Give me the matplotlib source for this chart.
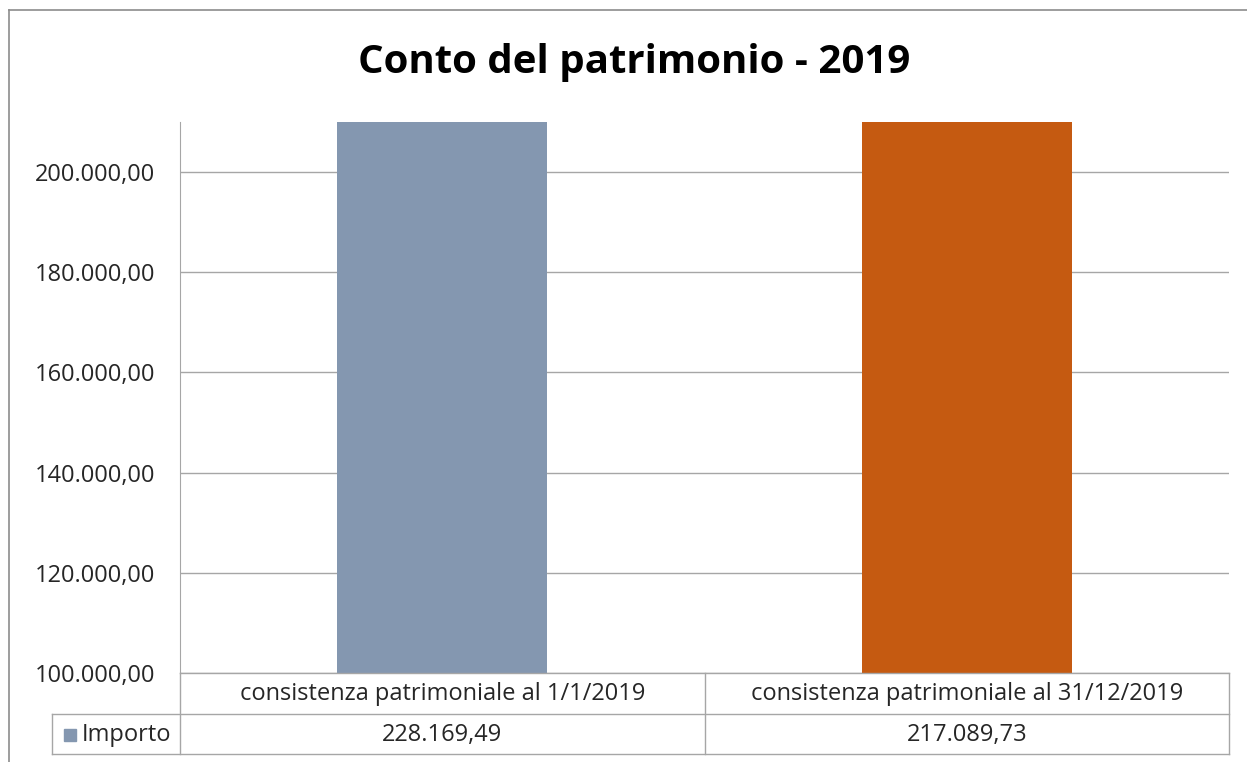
import matplotlib.pyplot as plt
from matplotlib import font_manager
from matplotlib.lines import Line2D
from matplotlib.patches import Rectangle
from matplotlib.transforms import blended_transform_factory

# data
categorie = ['consistenza patrimoniale al 1/1/2019', 'consistenza patrimoniale al 31/12/2019']
importo = [228169.49, 217089.73]
colori = ['#8497B0', '#C55A11']
serie = 'Importo'
yticks = [100000, 120000, 140000, 160000, 180000, 200000]

names = {f.name for f in font_manager.fontManager.ttflist}
fam = 'Liberation Sans Narrow' if 'Liberation Sans Narrow' in names else 'Open Sans'
plt.rcParams['font.family'] = [fam, 'DejaVu Sans']
txt = '#262626'
grid = '#A6A6A6'


def it_fmt(v):
    # formato italiano: 200.000,00
    return f'{v:,.2f}'.replace(',', 'X').replace('.', ',').replace('X', '.')


W, H = 1247, 762
fig = plt.figure(figsize=(W / 100, H / 100), dpi=100)


def fx(px):
    return px / W


def fy(py):
    return 1 - py / H


# plot area in pixels
L, R, T, B = 180, 1229, 122, 673
ax = fig.add_axes([fx(L), fy(B), fx(R - L), (B - T) / H])

x = list(range(len(categorie)))
ax.bar(x, importo, width=0.4, color=colori, zorder=3)
ax.set_xlim(-0.5, len(categorie) - 0.5)
ax.set_ylim(100000, 210000)
ax.set_yticks(yticks)
ax.set_yticklabels([it_fmt(v) for v in yticks], fontsize=17, color=txt)
ax.tick_params(axis='y', length=0, pad=18)
ax.set_xticks([])
ax.grid(axis='y', color=grid, linewidth=1, zorder=0)
for s in ['top', 'right', 'bottom']:
    ax.spines[s].set_visible(False)
ax.spines['left'].set_color(grid)

# title
fig.text(fx(634), fy(62), 'Conto del patrimonio - 2019', ha='center', va='center',
         fontsize=29, fontweight='bold', color='black')

# outer frame
fig.add_artist(Line2D([fx(9), fx(1247)], [fy(10), fy(10)], color='#8C8C8C', lw=1.2))
fig.add_artist(Line2D([fx(9), fx(9)], [fy(10), fy(762)], color='#8C8C8C', lw=1.2))

# data table
r1, r2, r3 = 673, 714, 754


def hline(y, x0, x1):
    fig.add_artist(Line2D([fx(x0), fx(x1)], [fy(y), fy(y)], color=grid, lw=1))


def vline(xp, y0, y1):
    fig.add_artist(Line2D([fx(xp), fx(xp)], [fy(y0), fy(y1)], color=grid, lw=1))


hline(r1, L, R)
hline(r2, 52, R)
hline(r3, 52, R)
vline(L, B, r3)
vline(52, r2, r3)
vline(R, r1, r3)
vline((L + R) / 2, r1, r3)

tr = blended_transform_factory(ax.transData, fig.transFigure)
for i, (c, v) in enumerate(zip(categorie, importo)):
    ax.text(i, fy((r1 + r2) / 2 + 1), c, transform=tr, clip_on=False,
            ha='center', va='center', fontsize=17, color=txt)
    ax.text(i, fy((r2 + r3) / 2 + 1), it_fmt(v), transform=tr, clip_on=False,
            ha='center', va='center', fontsize=17, color=txt)

# legend key in table
fig.add_artist(Rectangle((fx(64), fy(741)), fx(12), 12 / H, color=colori[0]))
fig.text(fx(82), fy((r2 + r3) / 2 + 1), serie, ha='left', va='center', fontsize=17, color=txt)

fig.savefig('out.png', dpi=100)
